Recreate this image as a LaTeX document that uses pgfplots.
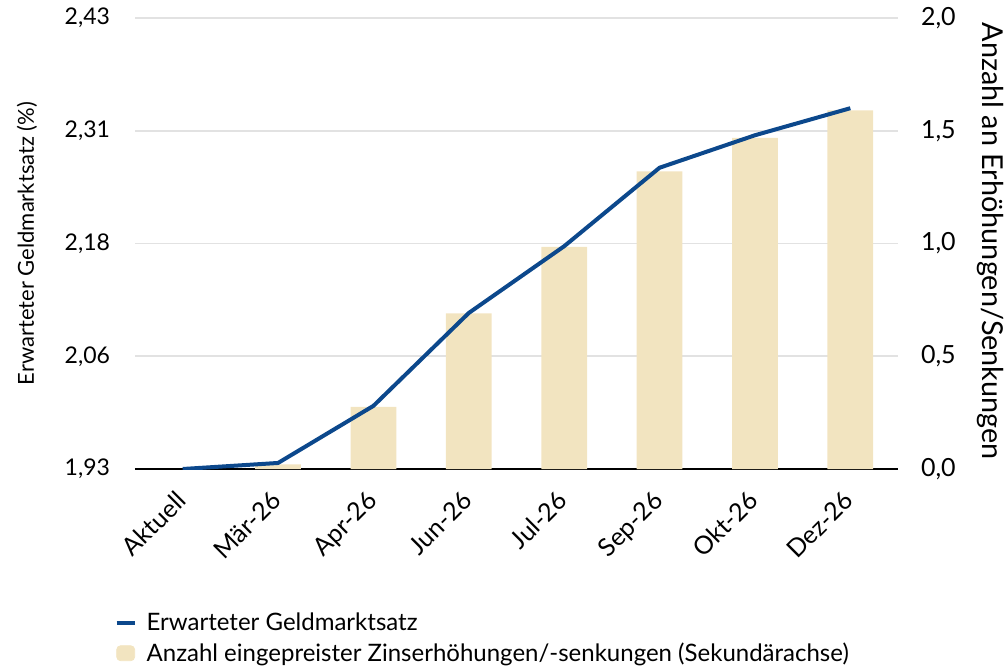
\documentclass[border=0pt]{standalone}
\usepackage{pgfplots}
\pgfplotsset{compat=1.18}
\usepackage{fontspec}
\setmainfont{Lato}

\definecolor{linieBlau}{RGB}{12,72,140}
\definecolor{balkenBeige}{RGB}{242,228,192}
\definecolor{gitterGrau}{RGB}{226,226,226}

\pgfplotsset{
  basis/.style={
    scale only axis,
    width=381.5pt, height=225.5pt,
    at={(0,0)}, anchor=south west,
    xmin=-0.5, xmax=7.5,
    major tick length=0pt,
    axis line style={draw=none},
  }
}

\begin{document}
\begin{tikzpicture}
\path[use as bounding box] (-67.5pt,-100pt) rectangle (435pt,234.5pt);

% Primaerachse: Gitter, Nulllinie, Kategorien
\begin{axis}[
  basis,
  ymin=1.93, ymax=2.43,
  ytick={1.93,2.055,2.18,2.305,2.43},
  yticklabels={{1,93},{2,06},{2,18},{2,31},{2,43}},
  ymajorgrids=true,
  grid style={gitterGrau, line width=0.9pt},
  xtick={0,...,7},
  xticklabels={Aktuell,Mär-26,Apr-26,Jun-26,Jul-26,Sep-26,Okt-26,Dez-26},
  x tick label style={xshift=-4pt, yshift=-10pt, rotate=45, anchor=north east, inner sep=0pt,
    font=\fontsize{12.5}{14}\selectfont},
  yticklabel style={font=\fontsize{11.5}{13}\selectfont, xshift=-9pt},
  ylabel={Erwarteter Geldmarktsatz (\%)},
  every axis y label/.style={at={(axis description cs:-0.1415,0.5)}, rotate=90, anchor=center, font=\fontsize{11}{13}\selectfont},
]
\draw[black, line width=0.9pt] (axis cs:-0.5,1.93) -- (axis cs:7.5,1.93);
\end{axis}

% Sekundaerachse: eingepreiste Zinsschritte
\begin{axis}[
  basis,
  ymin=0, ymax=2,
  axis y line*=right,
  axis x line=none,
  ytick={0,0.5,1,1.5,2},
  yticklabel style={font=\fontsize{12.5}{14}\selectfont, xshift=8pt,
    /pgf/number format/.cd, assume math mode=true, use comma, fixed, fixed zerofill, precision=1},
  ylabel={Anzahl an Erhöhungen/Senkungen},
  every axis y label/.style={at={(axis description cs:1.1206,0.505)}, rotate=-90, anchor=center, font=\fontsize{14.4}{16}\selectfont},
]
\addplot[ybar, bar width=0.48, fill=balkenBeige, draw=none] coordinates {
  (1,0.02) (2,0.275) (3,0.69) (4,0.985) (5,1.32) (6,1.468) (7,1.59)
};
\end{axis}

% Erwarteter Geldmarktsatz
\begin{axis}[
  basis,
  ymin=1.93, ymax=2.43,
  hide axis,
  legend cell align=left,
  legend style={at={(axis description cs:-0.035,-0.297)}, anchor=north west,
    draw=none, fill=none, font=\fontsize{12}{14}\selectfont,
    row sep=-0.3pt, column sep=2.5pt, nodes={inner sep=2.5pt}},
]
\addplot[linieBlau, line width=2pt,
  legend image code/.code={\draw[linieBlau, line width=2pt] (0pt,0pt) -- (9pt,0pt);}] coordinates {
  (0,1.93) (1,1.9367) (2,2.000) (3,2.103) (4,2.177) (5,2.264) (6,2.300) (7,2.330)
};
\addlegendentry{Erwarteter Geldmarktsatz}
\addlegendimage{legend image code/.code={\fill[balkenBeige, rounded corners=2pt] (0pt,-3.75pt) rectangle (9pt,3.75pt);}}
\addlegendentry{Anzahl eingepreister Zinserhöhungen/-senkungen (Sekundärachse)}
\end{axis}
\end{tikzpicture}
\end{document}
